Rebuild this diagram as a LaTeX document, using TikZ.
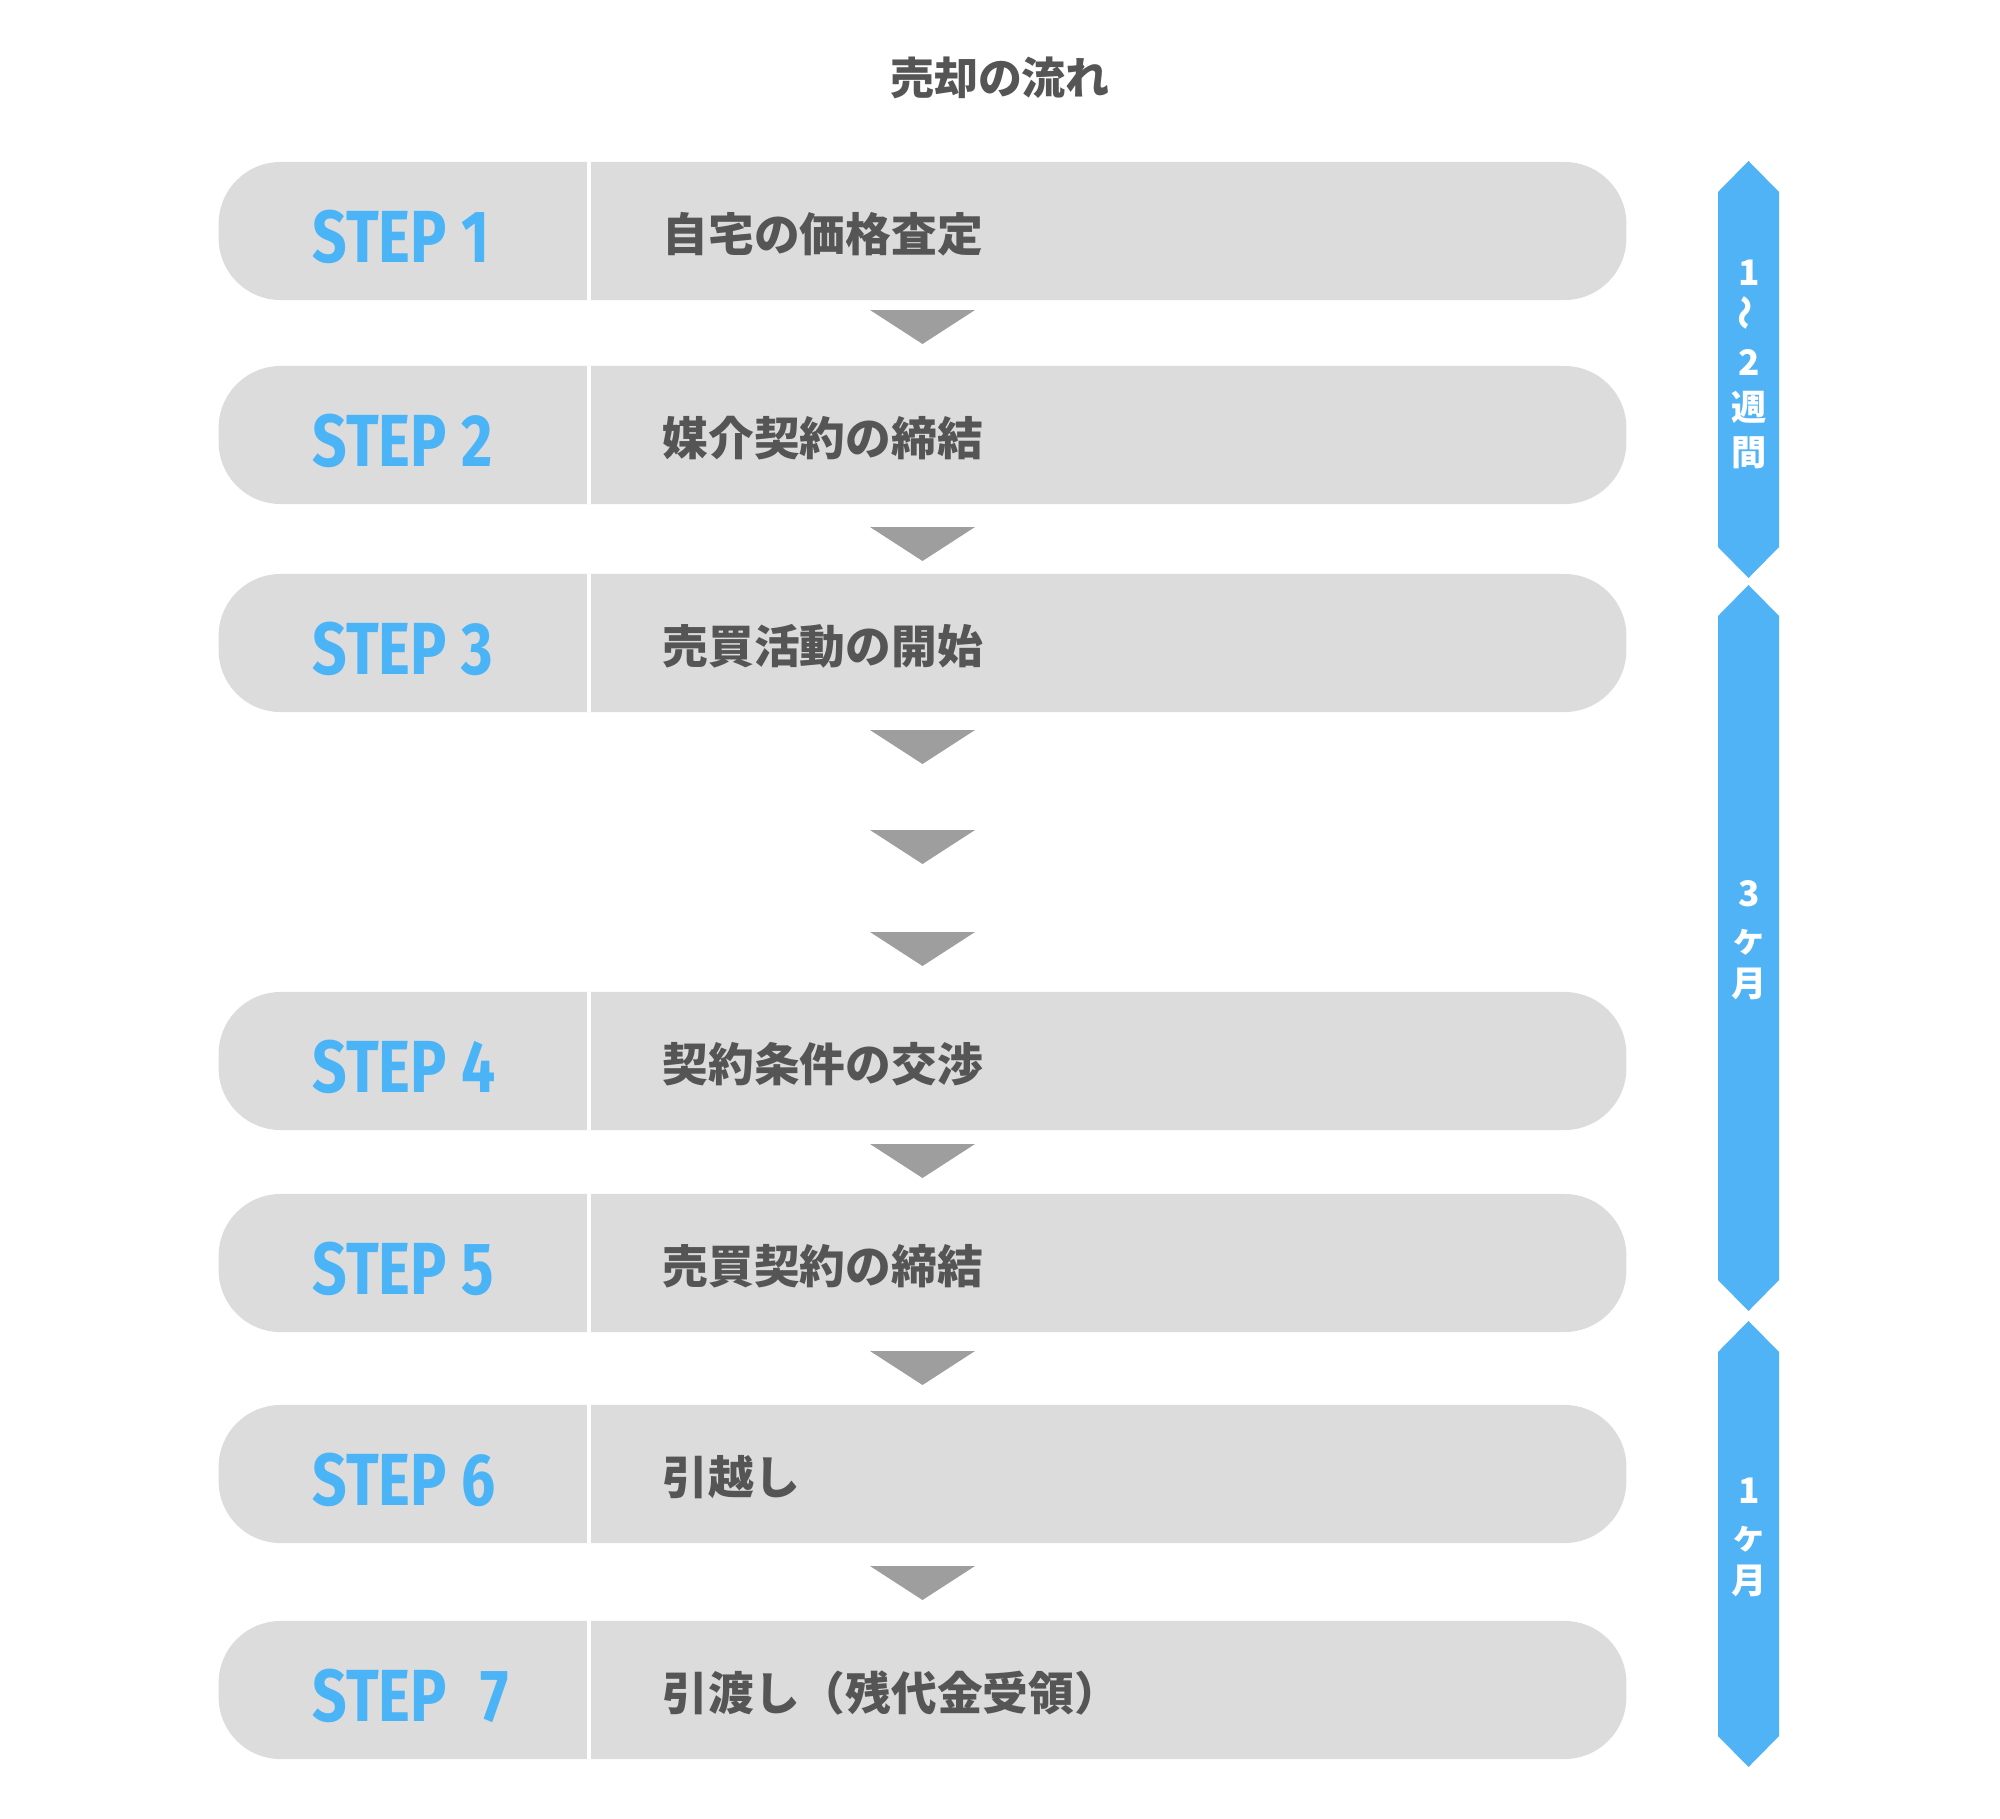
\documentclass[tikz,border=0pt]{standalone}
\usepackage{fontspec}
\newfontfamily\jpfont{Noto Sans CJK JP}
\newfontfamily\stepfont[FakeStretch=0.82]{Fira Sans}
\definecolor{pillgray}{HTML}{DCDCDC}
\definecolor{arrowgray}{HTML}{9E9E9F}
\definecolor{barblue}{HTML}{4FB3F5}
\definecolor{stepblue}{HTML}{4AB4F7}
\definecolor{textgray}{HTML}{555555}
\tikzset{
  pill/.style = {fill=pillgray, rounded corners=0.62cm, minimum width=14.07cm, minimum height=1.38cm, inner sep=0pt},
  divider/.style = {draw=white, line width=1.2pt},
  steplabel/.style = {anchor=west, text=stepblue, font=\stepfont\bfseries\fontsize{21pt}{24pt}\selectfont, inner sep=0pt},
  steptext/.style = {anchor=west, text=textgray, font=\jpfont\bfseries\fontsize{13pt}{15pt}\selectfont, inner sep=0pt},
  bartext/.style = {text=white, align=center, font=\jpfont\bfseries\fontsize{10pt}{12.8pt}\selectfont, inner sep=0pt},
  headline/.style = {text=textgray, font=\jpfont\bfseries\fontsize{12.5pt}{15pt}\selectfont}
}

\begin{document}
\begin{tikzpicture}[x=0.01cm,y=-0.01cm]
  \useasboundingbox (0,0) rectangle (2000,1818);
  \pgfmathsetmacro{\half}{69};
  \pgfmathsetmacro{\split}{589};
  \node[headline] (title) at (1000,78) {売却の流れ};
  % steps
  \foreach \n/\y/\lbl/\txt in {1/231/STEP 1/自宅の価格査定, 2/435/STEP 2/媒介契約の締結, 3/643/STEP 3/売買活動の開始, 4/1061/STEP 4/契約条件の交渉, 5/1263/STEP 5/売買契約の締結, 6/1474/STEP 6/引越し, 7/1690/STEP\hspace{0.45em}7/引渡し（残代金受領）} {
    \node[pill] (p\n) at (922.5,\y) {};
    \draw[divider] (\split,{\y-\half}) -- (\split,{\y+\half});
    \node[steplabel] (s\n) at (312,{\y+6}) {\lbl};
    \node[steptext] (t\n) at (662,{\y+3}) {\txt};
  }
  % arrows
  \foreach \y in {310,527,730,830,932,1144,1351,1566}
    \fill[arrowgray] (870,\y) -- (975,\y) -- (922.5,{\y+34}) -- cycle;
  % periods
  \foreach \top/\bot in {161/578, 585/1311, 1321/1767}
    \fill[barblue] (1748.5,\top) -- (1779,{\top+31}) -- (1779,{\bot-31}) -- (1748.5,\bot) -- (1718,{\bot-31}) -- (1718,{\top+31}) -- cycle;
  \node[bartext] (w1) at (1749,364) {1\\\rotatebox{90}{〜}\\2\\週\\間};
  \node[bartext] (w2) at (1749,940) {3\\ヶ\\月};
  \node[bartext] (w3) at (1749,1537) {1\\ヶ\\月};
\end{tikzpicture}
\end{document}
